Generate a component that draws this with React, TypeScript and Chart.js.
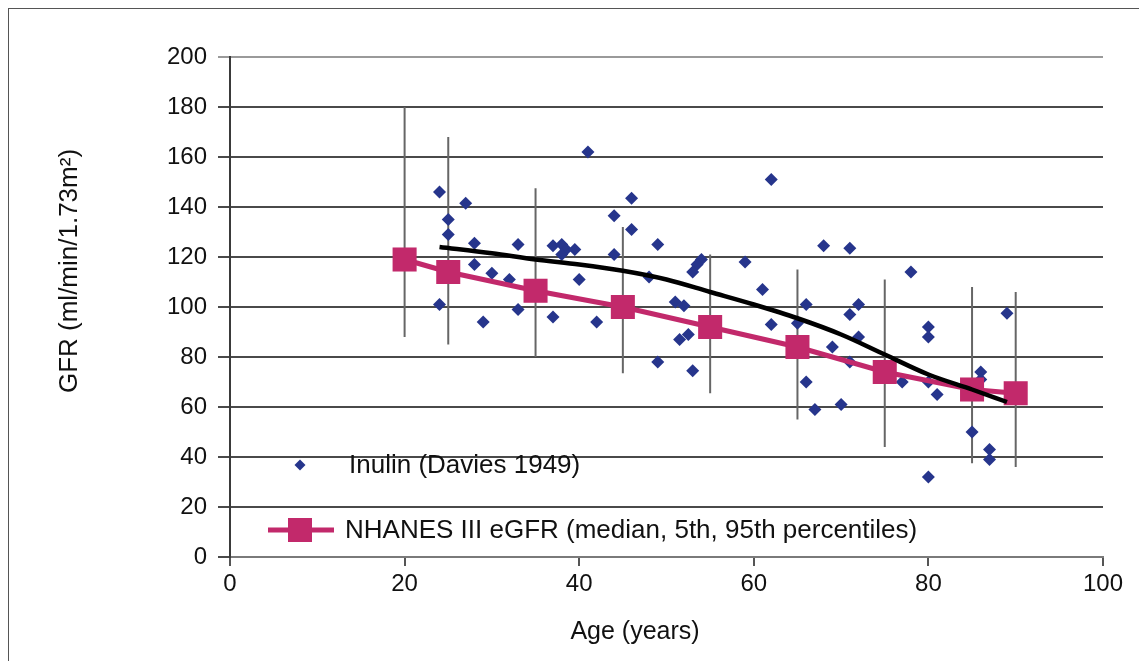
import { useEffect, useRef } from "react";
import { Chart, registerables } from "chart.js";

Chart.register(...registerables);

// Inulin clearance measurements (Davies 1949)
const inulinAge = [
  24, 27, 25, 25, 28, 33, 37, 38, 38.5, 38, 39.5, 41, 40, 28, 30, 32, 44, 46, 46, 44,
  49, 48, 24, 29, 33, 37, 42, 49, 51, 52, 51.5, 52.5, 53, 62, 68, 71, 54, 53.5, 53, 59,
  61, 78, 66, 72, 71, 62, 65, 80, 80, 72, 69, 71, 66, 67, 70, 77, 89, 80, 81, 86,
  86, 85, 87, 87, 80,
];
const inulinGfr = [
  146, 141.5, 135, 129, 125.5, 125, 124.5, 125, 123, 121, 123, 162, 111, 117, 113.5, 111, 136.5, 143.5, 131, 121,
  125, 112, 101, 94, 99, 96, 94, 78, 102, 100.5, 87, 89, 74.5, 151, 124.5, 123.5, 119, 117, 114, 118,
  107, 114, 101, 101, 97, 93, 93.5, 92, 88, 88, 84, 78, 70, 59, 61, 70, 97.5, 70, 65, 74,
  71, 50, 43, 39, 32,
];

// NHANES III eGFR: median with 5th and 95th percentiles
const nhanesAge = [20, 25, 35, 45, 55, 65, 75, 85, 90];
const nhanesMedian = [119, 114, 106.5, 100, 92, 84, 74, 67, 65.5];
const nhanesP5 = [88, 85, 80, 73.5, 65.5, 55, 44, 37.5, 36];
const nhanesP95 = [180, 168, 147.5, 132, 121, 115, 111, 108, 106];

// Fitted trend through the inulin data
const trendAge = [24, 30, 35, 40, 45, 50, 55, 60, 65, 70, 75, 80, 85, 89];
const trendGfr = [124, 121.5, 119, 117, 114.5, 111, 106, 101, 95.5, 89, 81, 73, 67, 62];

const xTickValues = [0, 20, 40, 60, 80, 100];
const yTickValues = [0, 20, 40, 60, 80, 100, 120, 140, 160, 180, 200];

const inulinLabel = "Inulin (Davies 1949)";
const nhanesLabel = "NHANES III eGFR (median, 5th, 95th percentiles)";
const xTitle = "Age (years)";
const yTitle = "GFR (ml/min/1.73m\u00b2)";

const FONT = "'Liberation Sans', Arial, Helvetica, sans-serif";
const BLUE = "#26358c";
const PINK = "#c2296b";

const errorBarPlugin = {
  id: "errorBars",
  beforeDatasetsDraw(chart: any) {
    const xs = chart.scales.x;
    const ys = chart.scales.y;
    const ctx = chart.ctx;
    ctx.save();
    ctx.strokeStyle = "#666";
    ctx.lineWidth = 2;
    nhanesAge.forEach((a, i) => {
      const x = xs.getPixelForValue(a);
      ctx.beginPath();
      ctx.moveTo(x, ys.getPixelForValue(nhanesP5[i]));
      ctx.lineTo(x, ys.getPixelForValue(nhanesP95[i]));
      ctx.stroke();
    });
    ctx.restore();
  },
};

const titlesPlugin = {
  id: "axisTitles",
  afterDraw(chart: any) {
    const ctx = chart.ctx;
    const area = chart.chartArea;
    ctx.save();
    ctx.fillStyle = "#111";
    ctx.textAlign = "center";
    ctx.textBaseline = "middle";
    ctx.font = `25px ${FONT}`;
    ctx.fillText(xTitle, area.left + 405, area.bottom + 75);
    ctx.translate(61, area.top + 214);
    ctx.rotate(-Math.PI / 2);
    ctx.font = `26px ${FONT}`;
    ctx.fillText(yTitle, 0, 0);
    ctx.restore();
  },
};

const legendPlugin = {
  id: "insideLegend",
  afterDraw(chart: any) {
    const ctx = chart.ctx;
    const area = chart.chartArea;
    ctx.save();
    ctx.font = `26px ${FONT}`;
    ctx.textBaseline = "middle";
    ctx.textAlign = "left";
    // Inulin entry
    const y1 = area.bottom - 92;
    const mx = area.left + 70;
    ctx.fillStyle = BLUE;
    ctx.beginPath();
    ctx.moveTo(mx, y1 - 5.5);
    ctx.lineTo(mx + 5.5, y1);
    ctx.lineTo(mx, y1 + 5.5);
    ctx.lineTo(mx - 5.5, y1);
    ctx.closePath();
    ctx.fill();
    ctx.fillStyle = "#111";
    ctx.fillText(chart.data.datasets[0].label, area.left + 119, y1 + 1);
    // NHANES entry
    const y2 = area.bottom - 27;
    ctx.strokeStyle = PINK;
    ctx.lineWidth = 5;
    ctx.beginPath();
    ctx.moveTo(area.left + 38, y2);
    ctx.lineTo(area.left + 104, y2);
    ctx.stroke();
    ctx.fillStyle = PINK;
    ctx.fillRect(mx - 12, y2 - 12, 24, 24);
    ctx.fillStyle = "#111";
    ctx.fillText(chart.data.datasets[1].label, area.left + 115, y2 + 1);
    ctx.restore();
  },
};

export default function App() {
  const canvasRef = useRef<HTMLCanvasElement | null>(null);

  useEffect(() => {
    if (!canvasRef.current) return;
    const chart = new Chart(canvasRef.current, {
      type: "scatter",
      data: {
        datasets: [
          {
            label: inulinLabel,
            type: "scatter",
            data: inulinAge.map((a, i) => ({ x: a, y: inulinGfr[i] })),
            pointStyle: "rectRot",
            pointRadius: 6.5,
            pointBackgroundColor: BLUE,
            pointBorderColor: BLUE,
            pointBorderWidth: 0,
            order: 3,
          },
          {
            label: nhanesLabel,
            type: "line",
            data: nhanesAge.map((a, i) => ({ x: a, y: nhanesMedian[i] })),
            borderColor: PINK,
            borderWidth: 5,
            pointStyle: "rect",
            pointRadius: 17,
            pointBackgroundColor: PINK,
            pointBorderColor: PINK,
            pointBorderWidth: 0,
            tension: 0,
            order: 2,
          },
          {
            label: "trend",
            type: "line",
            data: trendAge.map((a, i) => ({ x: a, y: trendGfr[i] })),
            borderColor: "#000",
            borderWidth: 4.5,
            pointRadius: 0,
            cubicInterpolationMode: "monotone",
            order: 1,
          },
        ] as any,
      },
      options: {
        animation: false,
        responsive: false,
        devicePixelRatio: 1,
        layout: { padding: { top: 48, right: 37, left: 0, bottom: 0 } },
        plugins: {
          legend: { display: false },
          tooltip: { enabled: false },
        },
        scales: {
          x: {
            type: "linear",
            min: 0,
            max: 100,
            afterFit: (s: any) => {
              s.height = 104;
            },
            afterBuildTicks: (s: any) => {
              s.ticks = xTickValues.map((v) => ({ value: v }));
            },
            ticks: {
              color: "#111",
              font: { family: FONT, size: 24 },
              padding: 4,
              maxRotation: 0,
            },
            grid: {
              drawOnChartArea: false,
              drawTicks: true,
              tickLength: 9,
              color: "#555",
              lineWidth: 2,
            },
            border: { display: true, color: "#7a7a7a", width: 2 },
            title: { display: false },
          },
          y: {
            type: "linear",
            min: 0,
            max: 200,
            afterFit: (s: any) => {
              s.width = 221;
            },
            afterBuildTicks: (s: any) => {
              s.ticks = yTickValues.map((v) => ({ value: v }));
            },
            ticks: {
              color: "#111",
              font: { family: FONT, size: 24 },
              padding: 11,
            },
            grid: {
              drawOnChartArea: true,
              drawTicks: true,
              tickLength: 12,
              color: (c: any) => (c.tick && c.tick.value === 200 ? "#9a9a9a" : "#4a4a4a"),
              lineWidth: 2,
            },
            border: { display: true, color: "#3a3a3a", width: 2 },
            title: { display: false },
          },
        },
      } as any,
      plugins: [errorBarPlugin, legendPlugin, titlesPlugin],
    });
    return () => chart.destroy();
  }, []);

  return (
    <div
      style={{
        border: "1px solid #555",
        width: 1131,
        height: 652,
        background: "#fff",
      }}
    >
      <canvas ref={canvasRef} width={1131} height={652} style={{ display: "block" }} />
    </div>
  );
}
